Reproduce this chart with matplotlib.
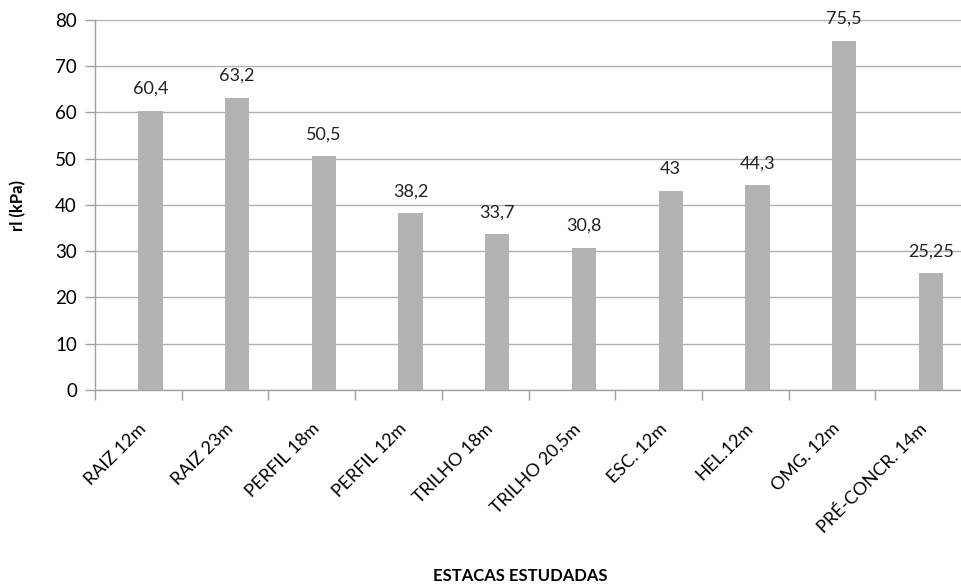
import numpy as np
import matplotlib
matplotlib.use("Agg")
import matplotlib.pyplot as plt

estacas = ["RAIZ 12m", "RAIZ 23m", "PERFIL 18m", "PERFIL 12m", "TRILHO 18m",
           "TRILHO 20,5m", "ESC. 12m", "HEL.12m", "OMG. 12m", "PRÉ-CONCR. 14m"]
rl = [60.4, 63.2, 50.5, 38.2, 33.7, 30.8, 43, 44.3, 75.5, 25.25]
rotulos = ["60,4", "63,2", "50,5", "38,2", "33,7", "30,8", "43", "44,3", "75,5", "25,25"]

plt.rcParams["font.family"] = ["Lato", "DejaVu Sans"]

fig = plt.figure(figsize=(9.62, 5.86), dpi=100)
ax = fig.add_axes([0.0988, 0.3345, 0.9012, 0.6314])

x = np.arange(len(estacas))
ax.bar(x, rl, width=0.28, align="edge", color="#b3b3b3", zorder=3)

for xi, v, t in zip(x, rl, rotulos):
    ax.annotate(t, (xi + 0.14, v), xytext=(0, 10), textcoords="offset points",
                ha="center", va="bottom", fontsize=13, color="#222222")

ax.set_xlim(-0.5, len(estacas) - 0.5)
ax.set_ylim(0, 80)
ax.set_yticks(range(0, 81, 10))
ax.yaxis.grid(True, color="#b0b0b0", linewidth=1, zorder=0)

ax.set_xticks(x)
ax.set_xticklabels(estacas, rotation=45, ha="right", rotation_mode="anchor", fontsize=13)
ax.set_xticks(np.arange(-0.5, len(estacas), 1), minor=True)
ax.tick_params(axis="x", which="major", length=0, pad=22)
ax.tick_params(axis="x", which="minor", length=7, color="#a0a0a0", width=1)
ax.tick_params(axis="y", length=7, color="#a0a0a0", width=1, labelsize=13.5, pad=6)

for s in ["top", "right"]:
    ax.spines[s].set_visible(False)
for s in ["left", "bottom"]:
    ax.spines[s].set_color("#a0a0a0")
    ax.spines[s].set_linewidth(1)

fig.text(0.0187, 0.65, "rl (kPa)", rotation=90, ha="center", va="center",
         fontsize=12, fontweight="bold")
fig.text(0.541, 0.017, "ESTACAS ESTUDADAS", ha="center", va="center",
         fontsize=12, fontweight="bold")

fig.savefig("out.png", dpi=100)
